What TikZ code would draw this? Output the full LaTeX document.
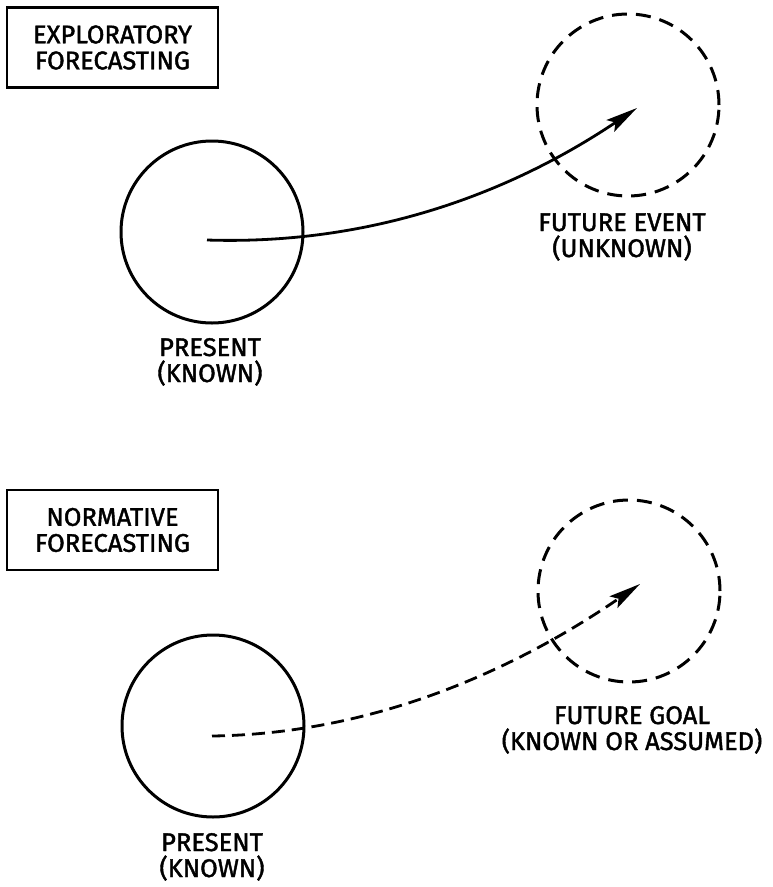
\documentclass[tikz,border=0pt]{standalone}
\usepackage{fontspec}
\setmainfont{Fira Sans}
\newfontfamily\labelfont{Fira Sans}[FakeBold=1.6]
\usetikzlibrary{arrows.meta}
\begin{document}
\begin{tikzpicture}[x=1pt,y=-1pt,
  every node/.style={font=\labelfont\fontsize{25.5}{26}\selectfont},
  caption/.style={align=center, anchor=base, inner sep=0pt},
  titlebox/.style={draw, line width=2.4pt, minimum width=211pt, minimum height=80pt,
    align=center, inner sep=0pt},
  known/.style={circle, draw, line width=3pt, minimum size=182pt, inner sep=0pt},
  unknown/.style={known, dash pattern=on 15pt off 9pt},
  path/.style={-{Stealth[length=32pt,width=14pt,inset=6pt]}, line width=2.8pt},
  pathdashed/.style={path, dash pattern=on 13pt off 7pt}
]
\path[use as bounding box] (0,0) rectangle (773,887);

% ---- exploratory forecasting ----
\node[titlebox] (exbox) at (112.5,47.5) {EXPLORATORY\\FORECASTING};
\node[known] (present1) at (212,232) {};
\node[unknown] (future1) at (628,105) {};
\node[caption] (presentlbl1) at (210,382) {PRESENT\\(KNOWN)};
\node[caption] (futurelbl1) at (622,257) {FUTURE EVENT\\(UNKNOWN)};
\coordinate (s1) at (207,240);
\coordinate (e1) at (637,108);
\draw[path] (s1) .. controls (360,245) and (500,200) .. (e1);

% ---- normative forecasting ----
\node[titlebox] (nobox) at (112.5,530) {NORMATIVE\\FORECASTING};
\node[known] (present2) at (213,726) {};
\node[unknown] (future2) at (629,591) {};
\node[caption] (presentlbl2) at (212,877) {PRESENT\\(KNOWN)};
\node[caption] (futurelbl2) at (632,750) {FUTURE GOAL\\(KNOWN OR ASSUMED)};
\coordinate (s2) at (212,736);
\coordinate (e2) at (640,584);
\draw[pathdashed] (s2) .. controls (360,734) and (500,680) .. (e2);
\end{tikzpicture}
\end{document}
